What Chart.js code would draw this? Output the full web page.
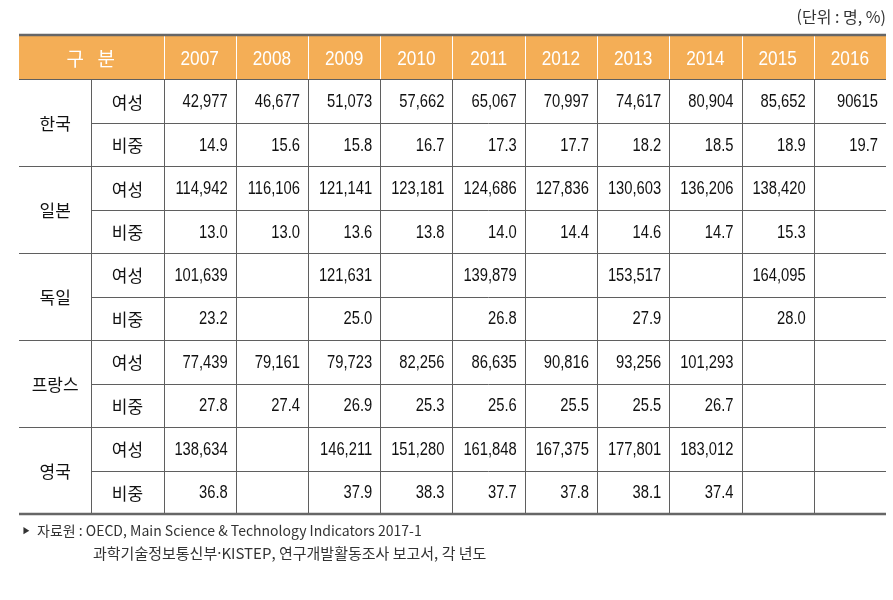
<!DOCTYPE html>
<html lang="ko">
<head>
<meta charset="utf-8">
<title>여성 연구원 현황</title>
<script src="https://cdn.jsdelivr.net/npm/chart.js@4/dist/chart.umd.min.js"></script>
<style>
  html, body { margin: 0; padding: 0; background: #fff; }
  #wrap { width: 893px; height: 600px; }
</style>
</head>
<body>
<div id="wrap"><canvas id="tableChart" width="893" height="600"></canvas></div>
<script>
// table data (blank cells are null)
const years = ['2007', '2008', '2009', '2010', '2011', '2012', '2013', '2014', '2015', '2016'];
const countries = ['한국', '일본', '독일', '프랑스', '영국'];
const itemLabels = ['여성', '비중'];

const womenKorea = ['42,977', '46,677', '51,073', '57,662', '65,067', '70,997', '74,617', '80,904', '85,652', '90615'];
const shareKorea = ['14.9', '15.6', '15.8', '16.7', '17.3', '17.7', '18.2', '18.5', '18.9', '19.7'];
const womenJapan = ['114,942', '116,106', '121,141', '123,181', '124,686', '127,836', '130,603', '136,206', '138,420', null];
const shareJapan = ['13.0', '13.0', '13.6', '13.8', '14.0', '14.4', '14.6', '14.7', '15.3', null];
const womenGermany = ['101,639', null, '121,631', null, '139,879', null, '153,517', null, '164,095', null];
const shareGermany = ['23.2', null, '25.0', null, '26.8', null, '27.9', null, '28.0', null];
const womenFrance = ['77,439', '79,161', '79,723', '82,256', '86,635', '90,816', '93,256', '101,293', null, null];
const shareFrance = ['27.8', '27.4', '26.9', '25.3', '25.6', '25.5', '25.5', '26.7', null, null];
const womenUK = ['138,634', null, '146,211', '151,280', '161,848', '167,375', '177,801', '183,012', null, null];
const shareUK = ['36.8', null, '37.9', '38.3', '37.7', '37.8', '38.1', '37.4', null, null];

const unitText = '(단위 : 명, %)';
const sourceLines = [
  '자료원 : OECD, Main Science & Technology Indicators 2017-1',
  '과학기술정보통신부·KISTEP, 연구개발활동조사 보고서, 각 년도'
];

const rowValues = [
  womenKorea, shareKorea, womenJapan, shareJapan, womenGermany,
  shareGermany, womenFrance, shareFrance, womenUK, shareUK
];

// category axes: 12 columns x 11 rows
const columns = ['구분', '항목', ...years];
const rowKeys = ['header'];
countries.forEach(c => itemLabels.forEach(it => rowKeys.push(c + ' ' + it)));

const datasets = rowValues.map((vals, r) => ({
  label: rowKeys[r + 1],
  data: years
    .map((yr, i) => vals[i] == null ? null : { x: yr, y: rowKeys[r + 1], text: vals[i] })
    .filter(p => p),
  pointRadius: 0,
  pointHoverRadius: 0
}));

const numFont = '18px "Liberation Sans", Arial, sans-serif';
const headFont = '20px "Liberation Sans", Arial, sans-serif';
const krFont = '17px "Noto Sans CJK KR", sans-serif';
const headerColor = '#f4ae56';
const lineColor = '#5f5f5f';

// draw text squeezed horizontally (the original uses a condensed face)
function narrowText(ctx, str, px, py, squeeze) {
  ctx.save();
  ctx.translate(px, py);
  ctx.scale(squeeze, 1);
  ctx.fillText(str, 0, 0);
  ctx.restore();
}

const tablePlugin = {
  id: 'tableCells',
  afterDraw(chart) {
    const { ctx, chartArea, scales: { x, y } } = chart;
    const colW = x.getPixelForValue(1) - x.getPixelForValue(0);
    const rowH = y.getPixelForValue(1) - y.getPixelForValue(0);
    const colEdge = i => x.getPixelForValue(i) - colW / 2;
    const rowEdge = j => y.getPixelForValue(j) - rowH / 2;
    const { left, right, top, bottom } = chartArea;

    ctx.save();

    // header band
    ctx.fillStyle = headerColor;
    ctx.fillRect(left, rowEdge(0), right - left, rowH);
    ctx.strokeStyle = '#fff';
    ctx.lineWidth = 1;
    for (let i = 2; i < columns.length; i++) {
      const px = Math.round(colEdge(i)) + 0.5;
      ctx.beginPath();
      ctx.moveTo(px, rowEdge(0));
      ctx.lineTo(px, rowEdge(1));
      ctx.stroke();
    }

    // header text
    ctx.fillStyle = '#fff';
    ctx.textAlign = 'center';
    ctx.textBaseline = 'middle';
    const hy = y.getPixelForValue(0) + 1;
    ctx.font = '19px "Noto Sans CJK KR", sans-serif';
    ctx.fillText('구', colEdge(1) - 16, hy);
    ctx.fillText('분', colEdge(1) + 15, hy);
    ctx.font = headFont;
    years.forEach((yr, i) => narrowText(ctx, yr, x.getPixelForValue(i + 2), hy + 1, 0.86));

    // body grid
    ctx.strokeStyle = lineColor;
    ctx.lineWidth = 1;
    for (let i = 1; i < columns.length; i++) {
      const px = Math.round(colEdge(i)) + 0.5;
      ctx.beginPath();
      ctx.moveTo(px, rowEdge(1));
      ctx.lineTo(px, bottom);
      ctx.stroke();
    }
    for (let j = 1; j < rowKeys.length; j++) {
      const py = Math.round(rowEdge(j)) + 0.5;
      const startX = (j % 2 === 1) ? left : colEdge(1);
      ctx.beginPath();
      ctx.moveTo(startX, py);
      ctx.lineTo(right, py);
      ctx.stroke();
    }
    // thick top / bottom rules
    ctx.strokeStyle = '#666';
    ctx.lineWidth = 2.5;
    [top - 1, bottom].forEach(py => {
      ctx.beginPath();
      ctx.moveTo(left, py);
      ctx.lineTo(right, py);
      ctx.stroke();
    });

    // row labels
    ctx.fillStyle = '#111';
    ctx.font = krFont;
    ctx.textAlign = 'center';
    countries.forEach((c, k) => {
      const cy = (y.getPixelForValue(1 + 2 * k) + y.getPixelForValue(2 + 2 * k)) / 2;
      ctx.fillText(c, x.getPixelForValue(0), cy + 1);
    });
    for (let j = 1; j < rowKeys.length; j++) {
      ctx.fillText(itemLabels[(j - 1) % 2], x.getPixelForValue(1), y.getPixelForValue(j) + 1);
    }

    // values, right aligned in each cell
    ctx.font = numFont;
    ctx.textAlign = 'right';
    chart.data.datasets.forEach((ds, d) => {
      const meta = chart.getDatasetMeta(d);
      meta.data.forEach((pt, k) => {
        narrowText(ctx, ds.data[k].text, pt.x + colW / 2 - 8, pt.y + 1, 0.82);
      });
    });

    // unit and source notes
    ctx.fillStyle = '#333';
    ctx.font = '16px "Noto Sans CJK KR", sans-serif';
    ctx.textAlign = 'right';
    ctx.fillText(unitText, right, 17);
    ctx.textAlign = 'left';
    ctx.font = '9px sans-serif';
    ctx.fillText('▶', left + 3, bottom + 18);
    ctx.font = '14px "Noto Sans CJK KR", sans-serif';
    ctx.fillText(sourceLines[0], left + 18, bottom + 17);
    ctx.font = '15px "Noto Sans CJK KR", sans-serif';
    ctx.fillText(sourceLines[1], left + 74, bottom + 39);

    ctx.restore();
  }
};

new Chart(document.getElementById('tableChart'), {
  type: 'scatter',
  data: { datasets },
  options: {
    responsive: false,
    animation: false,
    events: [],
    layout: { padding: { left: 19, right: 7, top: 36, bottom: 86 } },
    plugins: { legend: { display: false }, tooltip: { enabled: false } },
    scales: {
      x: { type: 'category', labels: columns, offset: true, display: false },
      y: { type: 'category', labels: rowKeys, offset: true, display: false }
    }
  },
  plugins: [tablePlugin]
});
</script>
</body>
</html>
